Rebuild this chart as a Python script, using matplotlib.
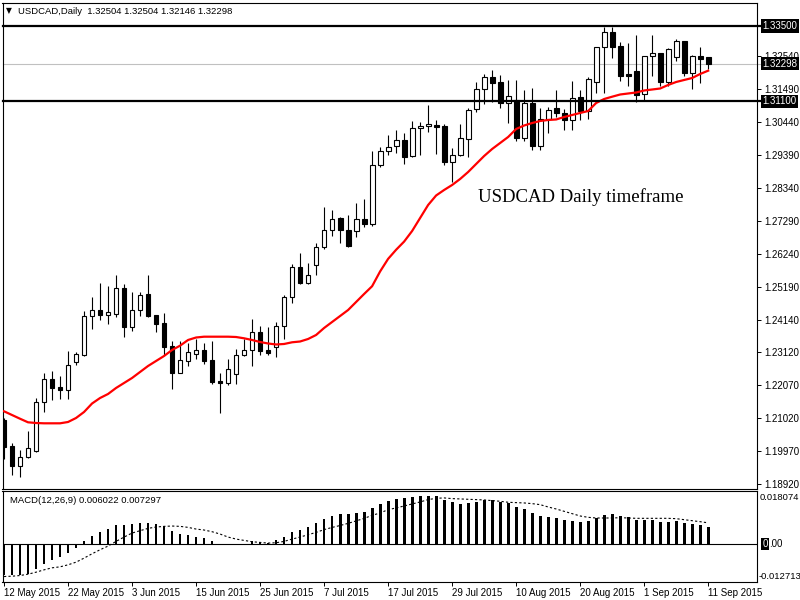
import matplotlib
matplotlib.use("Agg")
import matplotlib.pyplot as plt
import numpy as np

plt.rcParams['font.family'] = ['Liberation Sans', 'DejaVu Sans']

# daily USDCAD bars, 12 May 2015 .. 11 Sep 2015
opens = [1.20963, 1.20136, 1.19509, 1.19777, 1.19987, 1.21527, 1.22268, 1.22023, 1.21908, 1.22799,
         1.23041, 1.24263, 1.24454, 1.24295, 1.24327, 1.25154, 1.23932, 1.24454, 1.24973, 1.24304,
         1.24050, 1.23318, 1.22468, 1.22850, 1.23054, 1.23181, 1.22863, 1.22204, 1.22150, 1.22437,
         1.23022, 1.23181, 1.23754, 1.23181, 1.23277, 1.23945, 1.24868, 1.25822, 1.25332, 1.25886,
         1.26458, 1.26999, 1.27391, 1.26999, 1.26968, 1.27349, 1.27200, 1.29068, 1.29513, 1.29691,
         1.29863, 1.29363, 1.30245, 1.30308, 1.30340, 1.30318, 1.29163, 1.29386, 1.29914, 1.30849,
         1.31486, 1.31868, 1.31708, 1.31050, 1.31136, 1.29946, 1.31040, 1.29691, 1.30531, 1.30891,
         1.30722, 1.30518, 1.31231, 1.30805, 1.31728, 1.32822, 1.33299, 1.32863, 1.31972, 1.32068,
         1.31336, 1.32536, 1.32641, 1.31718, 1.32523, 1.33013, 1.32014, 1.32545, 1.32504]
highs = [1.21027, 1.20241, 1.20009, 1.20613, 1.21673, 1.22449, 1.22523, 1.22363, 1.23168, 1.23127,
         1.24432, 1.24887, 1.25313, 1.25227, 1.25577, 1.25291, 1.25027, 1.25027, 1.25577, 1.24304,
         1.24368, 1.23477, 1.23477, 1.23423, 1.23541, 1.23413, 1.23477, 1.22459, 1.22904, 1.23223,
         1.23531, 1.24177, 1.23945, 1.23923, 1.24082, 1.24931, 1.25918, 1.26277, 1.25959, 1.26595,
         1.27741, 1.27636, 1.27432, 1.27486, 1.27858, 1.27995, 1.29532, 1.29640, 1.30032, 1.30191,
         1.30086, 1.30477, 1.30445, 1.30986, 1.30499, 1.30372, 1.29608, 1.30382, 1.30891, 1.31708,
         1.31972, 1.32100, 1.31941, 1.31772, 1.31782, 1.31454, 1.31527, 1.30881, 1.30913, 1.31463,
         1.30868, 1.31750, 1.31463, 1.31887, 1.32830, 1.33478, 1.33478, 1.32991, 1.32949, 1.33213,
         1.32550, 1.33213, 1.32645, 1.32809, 1.33077, 1.33032, 1.32587, 1.32822, 1.32504]
lows = [1.19723, 1.19213, 1.19140, 1.19754, 1.19945, 1.21228, 1.21600, 1.21641, 1.21641, 1.22704,
        1.23009, 1.23868, 1.24155, 1.24018, 1.24231, 1.23614, 1.23786, 1.24282, 1.24231, 1.23773,
        1.23022, 1.21959, 1.22450, 1.22691, 1.22914, 1.22755, 1.22118, 1.21196, 1.22087, 1.22118,
        1.23000, 1.22691, 1.23032, 1.23032, 1.22978, 1.23550, 1.24677, 1.25300, 1.25281, 1.25568,
        1.26395, 1.26828, 1.26605, 1.26470, 1.26796, 1.27095, 1.27146, 1.29004, 1.29405, 1.29468,
        1.29099, 1.29332, 1.29405, 1.30118, 1.29427, 1.29068, 1.28546, 1.29370, 1.29341, 1.30754,
        1.31008, 1.31082, 1.30881, 1.30423, 1.29831, 1.29831, 1.29554, 1.29554, 1.30105, 1.30614,
        1.30191, 1.30191, 1.30518, 1.30531, 1.31358, 1.31378, 1.32472, 1.31740, 1.31591, 1.31072,
        1.31113, 1.31918, 1.31581, 1.31581, 1.32396, 1.31909, 1.31486, 1.31696, 1.32146]
closes = [1.20104, 1.19509, 1.19777, 1.20063, 1.21527, 1.22268, 1.21991, 1.21908, 1.22704, 1.23054,
          1.24272, 1.24454, 1.24295, 1.24400, 1.25154, 1.23932, 1.24454, 1.24941, 1.24282, 1.24028,
          1.23296, 1.22468, 1.22863, 1.23118, 1.23181, 1.22850, 1.22173, 1.22150, 1.22577, 1.23022,
          1.23181, 1.23754, 1.23168, 1.23105, 1.23945, 1.24868, 1.25822, 1.25332, 1.25568, 1.26458,
          1.26999, 1.27368, 1.26999, 1.26490, 1.27349, 1.27209, 1.29068, 1.29523, 1.29640, 1.29863,
          1.29341, 1.30245, 1.30308, 1.30372, 1.30296, 1.29163, 1.29386, 1.29927, 1.30818, 1.31486,
          1.31868, 1.31696, 1.31059, 1.31263, 1.29946, 1.31059, 1.29691, 1.30541, 1.30827, 1.30722,
          1.30518, 1.31218, 1.30805, 1.31804, 1.32822, 1.33299, 1.32841, 1.31918, 1.31918, 1.31314,
          1.32545, 1.32641, 1.31718, 1.32758, 1.33013, 1.32014, 1.32545, 1.32459, 1.32298]

# red moving average
ma = [1.21240, 1.21122, 1.21004, 1.20890, 1.20868, 1.20858, 1.20858, 1.20858, 1.20900, 1.21027,
      1.21218, 1.21488, 1.21663, 1.21791, 1.21982, 1.22141, 1.22300, 1.22491, 1.22682, 1.22841,
      1.23000, 1.23191, 1.23328, 1.23509, 1.23588, 1.23614, 1.23614, 1.23614, 1.23614, 1.23604,
      1.23563, 1.23509, 1.23445, 1.23398, 1.23366, 1.23382, 1.23436, 1.23461, 1.23541, 1.23668,
      1.23891, 1.24082, 1.24272, 1.24463, 1.24718, 1.24973, 1.25220, 1.25690, 1.26090, 1.26380,
      1.26640, 1.26977, 1.27391, 1.27804, 1.28107, 1.28282, 1.28441, 1.28632, 1.28854, 1.29109,
      1.29363, 1.29586, 1.29777, 1.29968, 1.30222, 1.30334, 1.30413, 1.30477, 1.30509, 1.30525,
      1.30604, 1.30668, 1.30732, 1.30795, 1.31050, 1.31177, 1.31250, 1.31320, 1.31352, 1.31384,
      1.31448, 1.31479, 1.31511, 1.31623, 1.31718, 1.31782, 1.31845, 1.31973, 1.32078]

# MACD(12,26,9): histogram = main line, dotted = signal
macd = [-0.01030, -0.01030, -0.01018, -0.00996, -0.00826, -0.00679, -0.00520, -0.00430, -0.00283, -0.00124,
        0.00113, 0.00272, 0.00419, 0.00520, 0.00656, 0.00656, 0.00702, 0.00735, 0.00724, 0.00679,
        0.00611, 0.00464, 0.00339, 0.00305, 0.00238, 0.00215, 0.00113, 0.00010, -0.00034, 0.00005,
        0.00010, 0.00102, 0.00079, 0.00057, 0.00136, 0.00238, 0.00419, 0.00498, 0.00577, 0.00724,
        0.00849, 0.00950, 0.01018, 0.01018, 0.01064, 0.01098, 0.01233, 0.01369, 0.01471, 0.01539,
        0.01573, 0.01607, 0.01641, 0.01641, 0.01641, 0.01505, 0.01437, 0.01369, 0.01403, 0.01437,
        0.01494, 0.01494, 0.01437, 0.01414, 0.01267, 0.01199, 0.01064, 0.00962, 0.00928, 0.00894,
        0.00826, 0.00792, 0.00758, 0.00792, 0.00894, 0.00996, 0.01030, 0.00962, 0.00928, 0.00826,
        0.00826, 0.00826, 0.00758, 0.00769, 0.00792, 0.00724, 0.00690, 0.00656, 0.006022]
signal = [-0.01086, -0.01075, -0.01052, -0.01007, -0.00939, -0.00860, -0.00792, -0.00758, -0.00690, -0.00600,
          -0.00464, -0.00317, -0.00181, -0.00057, 0.00102, 0.00249, 0.00385, 0.00464, 0.00543, 0.00588,
          0.00611, 0.00622, 0.00611, 0.00577, 0.00520, 0.00487, 0.00430, 0.00351, 0.00249, 0.00181,
          0.00136, 0.00091, 0.00068, 0.00045, 0.00057, 0.00102, 0.00181, 0.00249, 0.00328, 0.00407,
          0.00500, 0.00575, 0.00640, 0.00713, 0.00795, 0.00880, 0.00984, 0.01064, 0.01177, 0.01233,
          0.01301, 0.01369, 0.01437, 0.01516, 0.01561, 0.01573, 0.01550, 0.01539, 0.01527, 0.01516,
          0.01505, 0.01482, 0.01460, 0.01426, 0.01414, 0.01403, 0.01380, 0.01346, 0.01267, 0.01199,
          0.01120, 0.01041, 0.00962, 0.00917, 0.00894, 0.00894, 0.00894, 0.00905, 0.00894, 0.00883,
          0.00883, 0.00883, 0.00883, 0.00883, 0.00871, 0.00837, 0.00803, 0.00769, 0.007297]

price_ticks = [1.32540, 1.31490, 1.30440, 1.29390, 1.28340, 1.27290, 1.26240, 1.25190,
               1.24140, 1.23120, 1.22070, 1.21020, 1.19970, 1.18920]
levels = [1.33500, 1.31100]
bid = 1.32298
date_labels = ['12 May 2015', '22 May 2015', '3 Jun 2015', '15 Jun 2015', '25 Jun 2015', '7 Jul 2015',
               '17 Jul 2015', '29 Jul 2015', '10 Aug 2015', '20 Aug 2015', '1 Sep 2015', '11 Sep 2015']
header = 'USDCAD,Daily  1.32504 1.32504 1.32146 1.32298'
macd_label = 'MACD(12,26,9) 0.006022 0.007297'

W, H = 800, 600
x = np.arange(len(closes))
o = np.array(opens)
c = np.array(closes)

fig = plt.figure(figsize=(8, 6), dpi=100)
ax = fig.add_axes([2.5 / W, 1 - 489 / H, 754.5 / W, 486.5 / H])
ax2 = fig.add_axes([2.5 / W, 1 - 582 / H, 754.5 / W, 91 / H])

# candles
ax.vlines(x, lows, highs, color='black', lw=0.8, zorder=2)
body_low = np.minimum(o, c)
body_h = np.maximum(np.abs(c - o), 0.00015)
cols = np.where(c >= o, 'white', 'black')
ax.bar(x, body_h, 0.6, bottom=body_low, color=cols, edgecolor='black', lw=0.8, zorder=3)

ax.plot(x, ma, color='#ff0000', lw=1.6, zorder=4)

ytr = ax.get_yaxis_transform()
ax.plot([0, 1.005], [bid, bid], color='#c0c0c0', lw=0.8, transform=ytr, clip_on=False, zorder=1)
for lv in levels:
    ax.plot([0, 1.005], [lv, lv], color='black', lw=1.6, transform=ytr, clip_on=False, zorder=5)
for lv in levels + [bid]:
    ax.text(1.007, lv, '%.5f' % lv, transform=ytr, color='white', fontsize=7, va='center',
            bbox=dict(facecolor='black', edgecolor='none', pad=1.2))

ax.set_xlim(-0.19, 94.1)
ax.set_ylim(1.18768, 1.34247)
ax.yaxis.tick_right()
ax.set_yticks(price_ticks)
ax.set_yticklabels(['%.5f' % t for t in price_ticks])
ax.tick_params(axis='y', direction='out', length=3, width=0.7, pad=2, labelsize=7)
ax.set_xticks([])
for s in ax.spines.values():
    s.set_linewidth(0.8)

fig.text(478 / W, 1 - 197 / H, 'USDCAD Daily timeframe', family='Liberation Serif',
         fontsize=13.5, va='center', ha='left')
fig.text(6 / W, 1 - 11 / H, '\u25bc', family='DejaVu Sans', fontsize=5.5, va='center')
fig.text(18 / W, 1 - 11 / H, header, fontsize=6.8, va='center')

# MACD panel
ax2.bar(x, macd, 0.35, color='black', zorder=2)
ax2.plot(x, signal, color='black', lw=0.8, ls=(0, (2, 2)), zorder=3)
ax2.axhline(0, color='black', lw=0.8, zorder=1)
ax2.set_xlim(-0.19, 94.1)
ax2.set_ylim(-0.012713, 0.018074)
ax2.set_yticks([])
ax2.set_xticks(x[::8])
ax2.set_xticklabels(date_labels, ha='left')
ax2.tick_params(axis='x', direction='out', length=3, width=0.7, pad=1, labelsize=7)
for s in ax2.spines.values():
    s.set_linewidth(0.8)

ax2.text(1.004, 0.93, '0.018074', transform=ax2.transAxes, fontsize=6.8, va='center')
ax2.text(1.002, 0.065, '-0.012713', transform=ax2.transAxes, fontsize=6.8, va='center')
ax2.text(1.007, 0, '0', transform=ax2.get_yaxis_transform(), fontsize=7, va='center', color='white',
         bbox=dict(facecolor='black', edgecolor='none', pad=0.8))
ax2.text(1.0155, 0, '.00', transform=ax2.get_yaxis_transform(), fontsize=7, va='center')
ax2.text(7 / 754.5, 0.90, macd_label, transform=ax2.transAxes, fontsize=6.8, va='center')

fig.savefig('out.png', dpi=100)
